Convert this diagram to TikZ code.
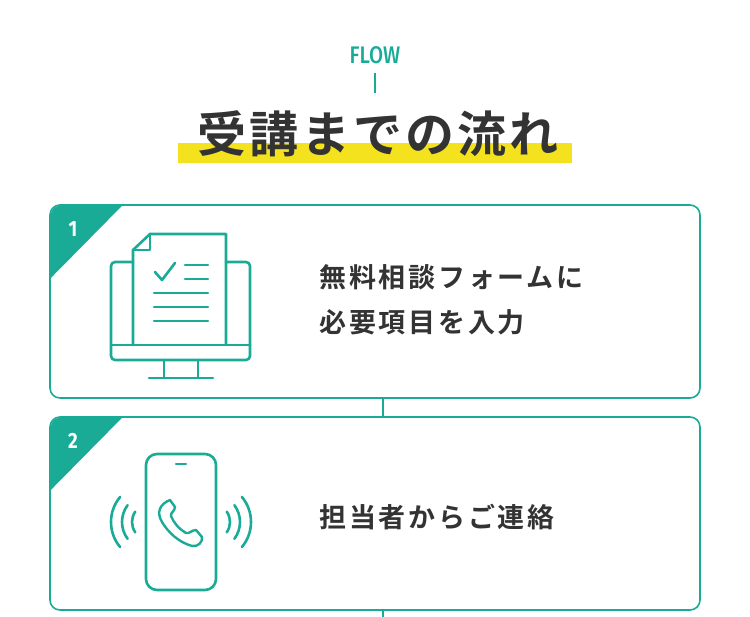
\documentclass[tikz,border=0pt]{standalone}
\usepackage{fontspec}
\newfontfamily\cjkb{Noto Sans CJK JP Bold}[LetterSpace=10]
\newfontfamily\cjkt{Noto Sans CJK JP Bold}[LetterSpace=6]
\newfontfamily\lat{Fira Sans Medium}[FakeStretch=0.85]
\newfontfamily\latb{Fira Sans Bold}[FakeStretch=0.85]
\definecolor{tl}{HTML}{1AAB96}
\definecolor{yl}{HTML}{F5E21E}
\definecolor{tx}{HTML}{333333}
\begin{document}
\begin{tikzpicture}[x=1pt,y=-1pt,
 ic/.style={draw=tl,line width=2.6pt,line cap=round,line join=round},
 card/.style={draw=tl,line width=1.6pt,rounded corners=10pt},
 body/.style={font=\cjkb\fontsize{27}{45}\selectfont,text=tx,anchor=west,align=left}]
\useasboundingbox (0,0) rectangle (750,617);
\node[font=\lat\fontsize{24}{24}\selectfont,text=tl] (flow) at (375,55) {FLOW};
\draw[tl,line width=1.2pt] (375,73) -- (375,93);
\fill[yl] (178,143) rectangle (572,163);
\node[font=\cjkt\fontsize{49}{49}\selectfont,text=tx] (title) at (378,134) {受講までの流れ};
% cards
\draw[card] (50,205) rectangle (700,398);
\draw[card] (50,417) rectangle (700,610);
\fill[tl] (50.8,215) -- (50.8,278) -- (122,205.8) -- (60,205.8) arc (270:180:9.2) -- cycle;
\fill[tl] (50.8,427) -- (50.8,490) -- (122,417.8) -- (60,417.8) arc (270:180:9.2) -- cycle;
\node[text=white,font=\latb\fontsize{22}{22}\selectfont] (n1) at (73,229) {1};
\node[text=white,font=\latb\fontsize{22}{22}\selectfont] (n2) at (73,441) {2};
\coordinate (c1) at (383,398); \coordinate (c2) at (383,417);
\coordinate (c3) at (383,610); \coordinate (c4) at (383,617);
\draw[tl,line width=1.6pt] (c1) -- (c2) (c3) -- (c4);
% texts
\node[body] (t1) at (316,300) {無料相談フォームに\\必要項目を入力};
\node[body] (t2) at (316,517) {担当者からご連絡};
% icon 1
\draw[ic,rounded corners=4pt] (133,262) -- (111,262) -- (111,360) -- (250,360) -- (250,262) -- (226,262);
\draw[ic] (111,345) -- (250,345);
\draw[ic] (164,361) -- (164,377) (198,361) -- (198,377) (149,378) -- (213,378);
\draw[ic] (133,345) -- (133,250) -- (150,234) -- (226,234) -- (226,345);
\draw[ic] (133,250) -- (150,250) -- (150,234);
\draw[ic] (155,272) -- (162,280) -- (175,263);
\draw[ic] (185,265) -- (208,265) (185,279) -- (208,279);
\draw[ic] (154,293) -- (208,293) (154,307) -- (208,307) (154,321) -- (208,321);
% icon 2
\draw[ic,rounded corners=11pt] (146,454) rectangle (216,590);
\draw[ic] (176,464) -- (186,464);
\foreach \r/\a in {18/35,28/37,39/40}{
 \draw[ic] (150,522) ++(180-\a:\r) arc[start angle=180-\a,end angle=180+\a,radius=\r];
 \draw[ic] (212,522) ++(-\a:\r) arc[start angle=-\a,end angle=\a,radius=\r];
}
% handset
\draw[ic,line width=2.4pt] (170,500) .. controls (160,504) and (156,512) .. (162,522)
 .. controls (168,532) and (178,542) .. (192,546)
 .. controls (198,547) and (203,542) .. (202,537) -- (196,530) .. controls (192,530) and (189,534) .. (186,533)
 .. controls (178,528) and (174,523) .. (171,516) .. controls (170,513) and (175,511) .. (175,507) -- cycle;
\end{tikzpicture}
\end{document}
